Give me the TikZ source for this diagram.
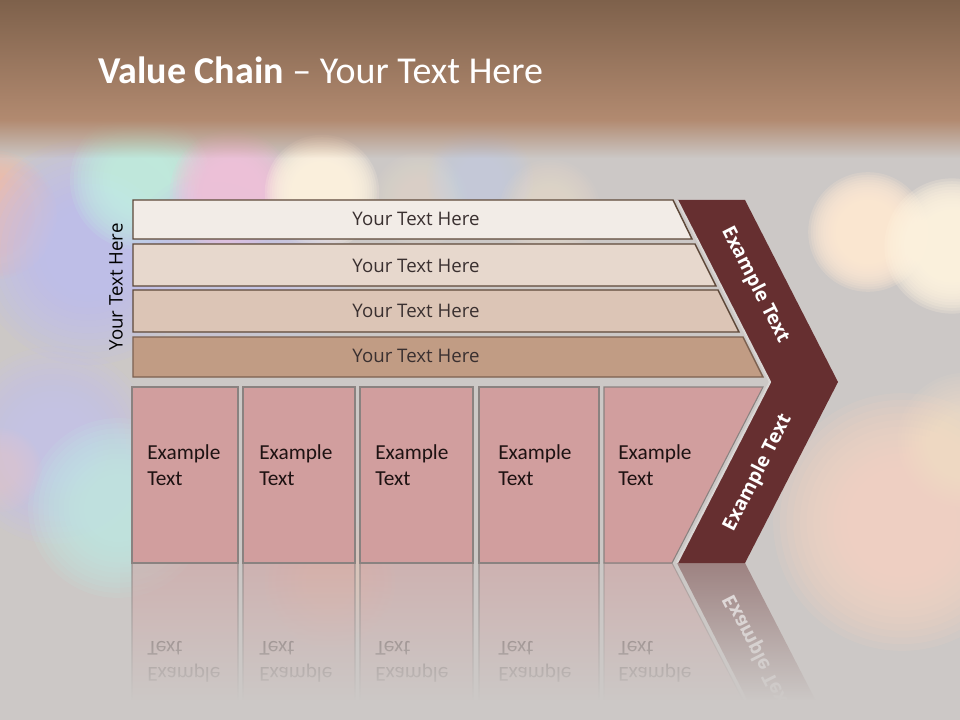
\documentclass[tikz,border=0pt]{standalone}
\usepackage{fontspec}
\usepackage{graphicx}
\setmainfont{Open Sans}
\newfontfamily\calib{Carlito}
\usetikzlibrary{fadings}

\definecolor{bgc}{HTML}{CCC8C6}
\definecolor{brtop}{HTML}{7E614B}
\definecolor{brbot}{HTML}{B28A70}
\definecolor{barA}{HTML}{F2ECE7}
\definecolor{barB}{HTML}{E7D8CD}
\definecolor{barC}{HTML}{DCC5B6}
\definecolor{barD}{HTML}{C19C84}
\definecolor{barline}{HTML}{5E4839}
\definecolor{boxfill}{HTML}{D19E9E}
\definecolor{boxline}{HTML}{8A8280}
\definecolor{chev}{HTML}{662F30}
\definecolor{chevedge}{HTML}{DAD6D4}
\definecolor{bartext}{HTML}{3A3030}
\definecolor{boxtext}{HTML}{1E1212}
\definecolor{bkpeachL}{HTML}{F6BCA8}
\definecolor{bklav}{HTML}{BEBEF4}
\definecolor{bkmint}{HTML}{BFF2E2}
\definecolor{bklav2}{HTML}{C4C4F4}
\definecolor{bkpink}{HTML}{F6C0DE}
\definecolor{bkwhite}{HTML}{FFF4E0}
\definecolor{bklav3}{HTML}{C8C8F2}
\definecolor{bksand}{HTML}{EADCCC}
\definecolor{bkblue}{HTML}{C4D2F0}
\definecolor{bksand2}{HTML}{F0E0CC}
\definecolor{bklav4}{HTML}{C4C2EE}
\definecolor{bkcyan}{HTML}{BFECE6}
\definecolor{bkrose}{HTML}{ECC4CE}
\definecolor{bkpeach1}{HTML}{FFEAD4}
\definecolor{bkpeach2}{HTML}{FFF4E0}
\definecolor{bkpeach3}{HTML}{FAD6C2}
\definecolor{bkpeach4}{HTML}{FCE6CC}
\definecolor{bksalmon}{HTML}{F2C4B2}

\tikzfading[name=fadeoutdown, top color=transparent!0, bottom color=transparent!100]
\tikzfading[name=fadeindown, top color=transparent!100, bottom color=transparent!0]

% soft disc: #1,#2 centre, #3 radius, #4 edge spread (fraction), #5 colour, #6 opacity per layer
\newcommand\bokehdisc[6]{%
  \foreach \k in {0,...,11}{%
    \fill[#5, fill opacity=#6] (#1,#2) circle ({#3*(1-#4+2*#4*\k/11)});}}

\tikzset{
  barshape/.style={draw=barline, line width=1.1pt},
  bartxt/.style={text=bartext, font=\fontsize{14}{16}\selectfont, inner sep=0pt},
  boxshape/.style={fill=boxfill, draw=boxline, line width=0.8pt},
  boxtxt/.style={text=boxtext, font=\calib\fontsize{16}{19}\selectfont, anchor=base west, inner sep=0pt},
  chevtxt/.style={text=white, font=\bfseries\fontsize{14.5}{17}\selectfont, inner sep=0pt},
  refltxt/.style={text=boxtext, text opacity=0.55, font=\calib\fontsize{16}{19}\selectfont, anchor=base west, inner sep=0pt},
}

\begin{document}
\begin{tikzpicture}[x=0.75pt, y=-0.75pt]
\useasboundingbox (0,0) rectangle (960,720);
% background
\fill[bgc] (0,0) rectangle (960,720);
\bokehdisc{-8}{215}{48}{0.35}{bkpeachL}{0.14}
\bokehdisc{88}{252}{78}{0.45}{bklav}{0.12}
\bokehdisc{140}{180}{50}{0.4}{bkmint}{0.14}
\bokehdisc{215}{262}{62}{0.45}{bklav2}{0.08}
\bokehdisc{232}{192}{46}{0.35}{bkpink}{0.14}
\bokehdisc{322}{192}{44}{0.3}{bkwhite}{0.2}
\bokehdisc{290}{280}{50}{0.4}{bklav3}{0.07}
\bokehdisc{420}{200}{34}{0.4}{bksand}{0.07}
\bokehdisc{480}{180}{38}{0.4}{bkblue}{0.06}
\bokehdisc{550}{210}{36}{0.4}{bksand2}{0.07}
\bokehdisc{55}{445}{68}{0.45}{bklav4}{0.12}
\bokehdisc{118}{508}{62}{0.45}{bkcyan}{0.12}
\bokehdisc{0}{470}{30}{0.4}{bkrose}{0.06}
\bokehdisc{868}{232}{46}{0.3}{bkpeach1}{0.2}
\bokehdisc{952}{246}{52}{0.3}{bkpeach2}{0.22}
\bokehdisc{330}{582}{45}{0.45}{bksalmon}{0.06}
% top band
\shade[top color=brtop, bottom color=brbot] (0,0) rectangle (960,120);
\fill[brbot, path fading=fadeoutdown] (0,119.5) rectangle (960,158);

% title
\node[anchor=base west, inner sep=0pt, text=white, font=\calib\fontsize{28.5}{34}\selectfont] (title) at (98,83.5) {\textbf{Value Chain} – Your Text Here};

% side label
\node[rotate=90, text=black, font=\fontsize{14}{16}\selectfont, inner sep=0pt] (side) at (116,287) {Your Text Here};

% bars
\draw[barshape, fill=barA] (133,200) -- (673,200) -- (692,239) -- (133,239) -- cycle;
\draw[barshape, fill=barB] (133,244) -- (695,244) -- (716,286) -- (133,286) -- cycle;
\draw[barshape, fill=barC] (133,290) -- (718,290) -- (739,332) -- (133,332) -- cycle;
\draw[barshape, fill=barD, draw=barline!70!barD] (133,337) -- (743,337) -- (763,377) -- (133,377) -- cycle;
\node[bartxt] (bt1) at (416,219) {Your Text Here};
\node[bartxt] (bt2) at (416,266) {Your Text Here};
\node[bartxt] (bt3) at (416,311) {Your Text Here};
\node[bartxt] (bt4) at (416,356) {Your Text Here};

% reflections (drawn first, then faded)
\begin{scope}[opacity=0.5]
\draw[boxshape] (132,563) rectangle (238,740);
\draw[boxshape] (243,563) rectangle (355,740);
\draw[boxshape] (360,563) rectangle (473,740);
\draw[boxshape] (479,563) rectangle (599,740);
\draw[boxshape] (604,563) -- (672,563) -- (763,739) -- (604,739) -- cycle;
\end{scope}
\fill[chev, fill opacity=0.45] (677,563) -- (745,563) -- (838,744) -- (770,744) -- cycle;
\node[refltxt] (r1a) at (147,667) {\scalebox{1}[-1]{Example}};
\node[refltxt] (r1b) at (147,641) {\scalebox{1}[-1]{Text}};
\node[refltxt] (r2a) at (259,667) {\scalebox{1}[-1]{Example}};
\node[refltxt] (r2b) at (259,641) {\scalebox{1}[-1]{Text}};
\node[refltxt] (r3a) at (375,667) {\scalebox{1}[-1]{Example}};
\node[refltxt] (r3b) at (375,641) {\scalebox{1}[-1]{Text}};
\node[refltxt] (r4a) at (498,667) {\scalebox{1}[-1]{Example}};
\node[refltxt] (r4b) at (498,641) {\scalebox{1}[-1]{Text}};
\node[refltxt] (r5a) at (618,667) {\scalebox{1}[-1]{Example}};
\node[refltxt] (r5b) at (618,641) {\scalebox{1}[-1]{Text}};
\node[chevtxt, text opacity=0.75, rotate=-63] (rc) at (758,653) {\scalebox{1}[-1]{Example Text}};
\fill[bgc, path fading=fadeindown] (120,563.5) rectangle (860,700);
\fill[bgc] (120,699.5) rectangle (860,720);

% right-hand glows drawn over the faded area's edge
\bokehdisc{902}{522}{92}{0.4}{bkpeach3}{0.13}
\bokehdisc{965}{440}{48}{0.4}{bkpeach4}{0.07}

% boxes
\draw[boxshape] (132,387) rectangle (238,563);
\draw[boxshape] (243,387) rectangle (355,563);
\draw[boxshape] (360,387) rectangle (473,563);
\draw[boxshape] (479,387) rectangle (599,563);
\draw[boxshape] (604,387) -- (763,387) -- (672,563) -- (604,563) -- cycle;
\node[boxtxt] (b1a) at (147,459) {Example};
\node[boxtxt] (b1b) at (147,485) {Text};
\node[boxtxt] (b2a) at (259,459) {Example};
\node[boxtxt] (b2b) at (259,485) {Text};
\node[boxtxt] (b3a) at (375,459) {Example};
\node[boxtxt] (b3b) at (375,485) {Text};
\node[boxtxt] (b4a) at (498,459) {Example};
\node[boxtxt] (b4b) at (498,485) {Text};
\node[boxtxt] (b5a) at (618,459) {Example};
\node[boxtxt] (b5b) at (618,485) {Text};

% chevron
\fill[chev] (677,200) -- (745,200) -- (838,382) -- (745,563) -- (677,563) -- (770,382) -- cycle;
\draw[chevedge, line width=1.6pt, line join=round] (677,563) -- (770,382) -- (677,200);
\node[chevtxt, rotate=-63] (c1) at (755,285) {Example Text};
\node[chevtxt, rotate=63] (c2) at (758,473) {Example Text};
\end{tikzpicture}
\end{document}
